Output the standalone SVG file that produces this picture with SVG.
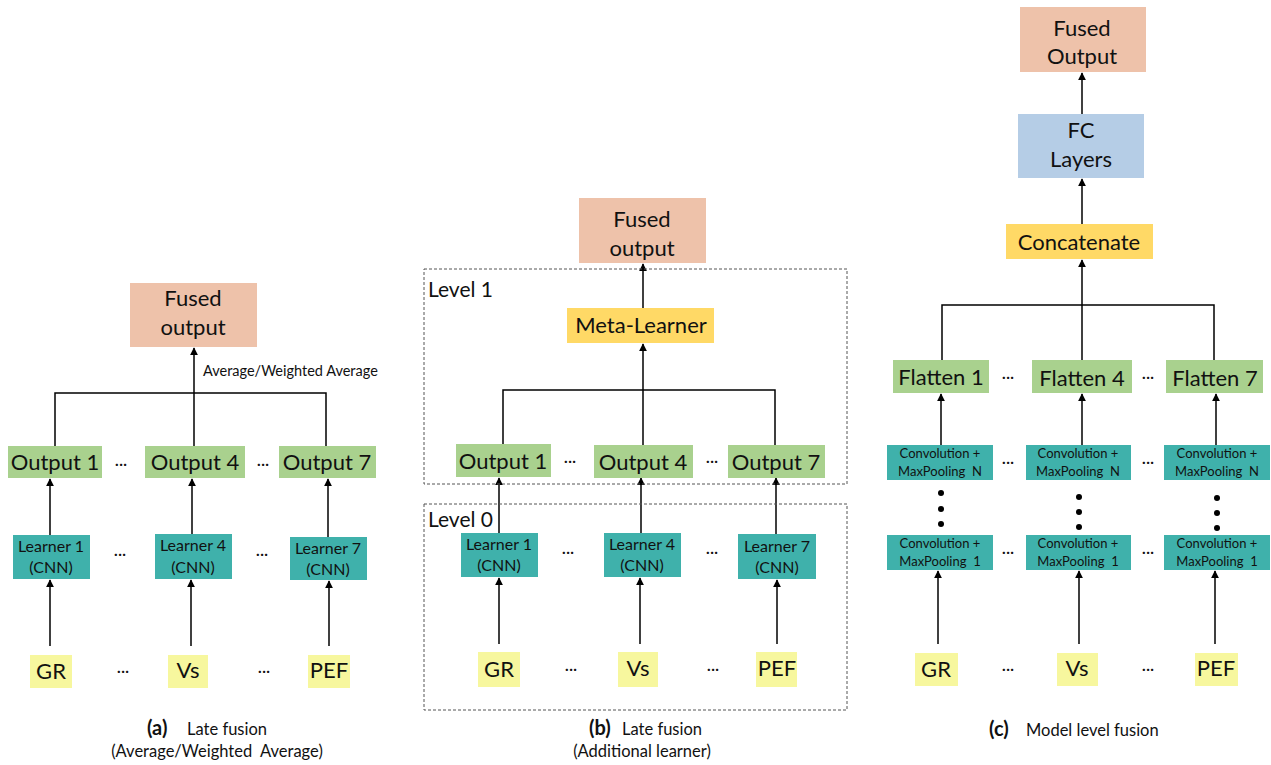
<svg xmlns="http://www.w3.org/2000/svg" width="1271" height="765" viewBox="0 0 1271 765">
<defs>
<marker id="ah" viewBox="0 0 10 10" refX="9" refY="5" markerWidth="8" markerHeight="8" markerUnits="userSpaceOnUse" orient="auto">
<path d="M0,0 L10,5 L0,10 z" fill="#000"/>
</marker>
<style>
text{font-family:Lato,"Open Sans","Liberation Sans",sans-serif;fill:#111;}
.big{font-size:22px;text-anchor:middle;}
.med{font-size:16px;text-anchor:middle;}
.sm{font-size:13px;text-anchor:middle;white-space:pre;}
.dots{font-size:16px;text-anchor:middle;}
.cap{font-size:16.5px;white-space:pre;}
.capb{font-size:20px;font-weight:bold;}
.lvt{font-size:21px;}
.salmon{fill:#EEC2AA;}
.green{fill:#A9D18E;}
.teal{fill:#3FB1AB;}
.yellow{fill:#F7F79E;}
.gold{fill:#FFD966;}
.blue{fill:#B5CDE6;}
.ln{stroke:#000;stroke-width:1.5;fill:none;}
.ar{stroke:#000;stroke-width:1.5;fill:none;marker-end:url(#ah);}
.lvl{fill:none;stroke:#555;stroke-width:1;stroke-dasharray:3,2;}
.vd{fill:#000;}
</style>
</defs>
<rect width="1271" height="765" fill="#fff"/>

<g id="connectors">
<!-- panel a -->
<path class="ln" d="M55,446 V393 H326 V446"/>
<line class="ar" x1="194" y1="446" x2="194" y2="348"/>
<line class="ar" x1="50" y1="535" x2="50" y2="479"/>
<line class="ar" x1="192" y1="534" x2="192" y2="479"/>
<line class="ar" x1="328" y1="537" x2="328" y2="479"/>
<line class="ar" x1="50" y1="646" x2="50" y2="580"/>
<line class="ar" x1="191" y1="646" x2="191" y2="580"/>
<line class="ar" x1="329" y1="646" x2="329" y2="581"/>
<!-- panel b -->
<path class="ln" d="M503,444 V390 H775 V445"/>
<line class="ar" x1="643" y1="445" x2="643" y2="344"/>
<line class="ar" x1="643" y1="308" x2="643" y2="264"/>
<line class="ar" x1="499" y1="533" x2="499" y2="478"/>
<line class="ar" x1="641" y1="533" x2="641" y2="478"/>
<line class="ar" x1="776" y1="534" x2="776" y2="478"/>
<line class="ar" x1="499" y1="644" x2="499" y2="578"/>
<line class="ar" x1="640" y1="644" x2="640" y2="578"/>
<line class="ar" x1="777" y1="644" x2="777" y2="580"/>
<!-- panel c -->
<path class="ln" d="M942,360 V305 H1214 V360"/>
<line class="ar" x1="1082" y1="360" x2="1082" y2="260"/>
<line class="ar" x1="1082" y1="224" x2="1082" y2="179"/>
<line class="ar" x1="1082" y1="114" x2="1082" y2="73"/>
<line class="ar" x1="941" y1="445" x2="941" y2="394"/>
<line class="ar" x1="1082" y1="445" x2="1082" y2="394"/>
<line class="ar" x1="1216" y1="445" x2="1216" y2="394"/>
<line class="ar" x1="938" y1="644" x2="938" y2="571"/>
<line class="ar" x1="1079" y1="644" x2="1079" y2="571"/>
<line class="ar" x1="1215" y1="644" x2="1215" y2="571"/>
</g>

<!-- ===== Panel (a) ===== -->
<g id="a-fused">
<rect class="salmon" x="130" y="283" width="127" height="64"/>
<text class="big" x="193" y="306">Fused</text>
<text class="big" x="193" y="335">output</text>
</g>
<text x="203" y="376" font-size="14.5">Average/Weighted Average</text>
<g id="a-out1"><rect class="green" x="8" y="446" width="94" height="32"/><text class="big" x="55" y="470">Output 1</text></g>
<g id="a-out4"><rect class="green" x="145" y="446" width="100" height="32"/><text class="big" x="195" y="470">Output 4</text></g>
<g id="a-out7"><rect class="green" x="279" y="446" width="97" height="32"/><text class="big" x="327" y="470">Output 7</text></g>
<text class="dots" x="121" y="469">···</text>
<text class="dots" x="263" y="469">···</text>
<g id="a-l1"><rect class="teal" x="13" y="535" width="77" height="44"/><text class="med" x="51" y="552">Learner 1</text><text class="med" x="51" y="573">(CNN)</text></g>
<g id="a-l4"><rect class="teal" x="155" y="534" width="77" height="45"/><text class="med" x="193" y="551">Learner 4</text><text class="med" x="193" y="573">(CNN)</text></g>
<g id="a-l7"><rect class="teal" x="290" y="537" width="77" height="43"/><text class="med" x="328" y="554">Learner 7</text><text class="med" x="328" y="575">(CNN)</text></g>
<text class="dots" x="120" y="559">···</text>
<text class="dots" x="262" y="559">···</text>
<g id="a-gr"><rect class="yellow" x="30" y="655" width="42" height="33"/><text class="big" x="51" y="679">GR</text></g>
<g id="a-vs"><rect class="yellow" x="168" y="655" width="40" height="33"/><text class="big" x="188" y="678">Vs</text></g>
<g id="a-pef"><rect class="yellow" x="308" y="655" width="42" height="33"/><text class="big" x="329" y="678">PEF</text></g>
<text class="dots" x="123" y="676">···</text>
<text class="dots" x="264" y="676">···</text>
<text class="capb" x="147" y="735">(a)</text>
<text class="cap" x="187" y="735">Late fusion</text>
<text class="cap" x="217" y="757" text-anchor="middle">(Average/Weighted  Average)</text>

<!-- ===== Panel (b) ===== -->
<rect class="lvl" x="424" y="269" width="423" height="215"/>
<rect class="lvl" x="424" y="504" width="423" height="206"/>
<text class="lvt" x="428" y="297">Level 1</text>
<text class="lvt" x="428" y="527">Level 0</text>
<g id="b-fused">
<rect class="salmon" x="579" y="198" width="127" height="65"/>
<text class="big" x="642" y="227">Fused</text>
<text class="big" x="642" y="256">output</text>
</g>
<g id="b-meta"><rect class="gold" x="567" y="308" width="147" height="35"/><text class="big" x="641" y="333">Meta-Learner</text></g>
<g id="b-out1"><rect class="green" x="456" y="444" width="95" height="33"/><text class="big" x="503" y="469">Output 1</text></g>
<g id="b-out4"><rect class="green" x="594" y="445" width="99" height="33"/><text class="big" x="643" y="470">Output 4</text></g>
<g id="b-out7"><rect class="green" x="728" y="445" width="97" height="33"/><text class="big" x="776" y="470">Output 7</text></g>
<text class="dots" x="570" y="466">···</text>
<text class="dots" x="712" y="466">···</text>
<g id="b-l1"><rect class="teal" x="461" y="533" width="77" height="44"/><text class="med" x="499" y="550">Learner 1</text><text class="med" x="499" y="571">(CNN)</text></g>
<g id="b-l4"><rect class="teal" x="604" y="533" width="77" height="44"/><text class="med" x="642" y="550">Learner 4</text><text class="med" x="642" y="571">(CNN)</text></g>
<g id="b-l7"><rect class="teal" x="738" y="534" width="78" height="45"/><text class="med" x="777" y="552">Learner 7</text><text class="med" x="777" y="573">(CNN)</text></g>
<text class="dots" x="568" y="557">···</text>
<text class="dots" x="712" y="557">···</text>
<g id="b-gr"><rect class="yellow" x="478" y="652" width="42" height="35"/><text class="big" x="499" y="677">GR</text></g>
<g id="b-vs"><rect class="yellow" x="618" y="652" width="40" height="35"/><text class="big" x="638" y="676">Vs</text></g>
<g id="b-pef"><rect class="yellow" x="756" y="652" width="41" height="35"/><text class="big" x="777" y="676">PEF</text></g>
<text class="dots" x="571" y="674">···</text>
<text class="dots" x="713" y="674">···</text>
<text class="capb" x="589" y="735">(b)</text>
<text class="cap" x="622" y="735">Late fusion</text>
<text class="cap" x="642" y="757" text-anchor="middle">(Additional learner)</text>

<!-- ===== Panel (c) ===== -->
<g id="c-fused">
<rect class="salmon" x="1020" y="7" width="126" height="65"/>
<text class="big" x="1082" y="36">Fused</text>
<text class="big" x="1082" y="64">Output</text>
</g>
<g id="c-fc">
<rect class="blue" x="1018" y="114" width="126" height="64"/>
<text class="big" x="1081" y="138">FC</text>
<text class="big" x="1081" y="167">Layers</text>
</g>
<g id="c-concat"><rect class="gold" x="1006" y="224" width="147" height="35"/><text class="big" x="1079" y="250">Concatenate</text></g>
<g id="c-f1"><rect class="green" x="893" y="360" width="96" height="33"/><text class="big" x="941" y="385">Flatten 1</text></g>
<g id="c-f4"><rect class="green" x="1032" y="360" width="100" height="33"/><text class="big" x="1082" y="386">Flatten 4</text></g>
<g id="c-f7"><rect class="green" x="1166" y="360" width="97" height="33"/><text class="big" x="1215" y="386">Flatten 7</text></g>
<text class="dots" x="1008" y="382">···</text>
<text class="dots" x="1148" y="382">···</text>
<g id="c-cn1"><rect class="teal" x="887" y="445" width="106" height="35"/><text class="sm" x="940" y="458">Convolution +</text><text class="sm" x="940" y="476">MaxPooling  N</text></g>
<g id="c-cn4"><rect class="teal" x="1026" y="445" width="105" height="35"/><text class="sm" x="1078" y="458">Convolution +</text><text class="sm" x="1078" y="476">MaxPooling  N</text></g>
<g id="c-cn7"><rect class="teal" x="1164" y="445" width="106" height="35"/><text class="sm" x="1217" y="458">Convolution +</text><text class="sm" x="1217" y="476">MaxPooling  N</text></g>
<text class="dots" x="1008" y="467">···</text>
<text class="dots" x="1148" y="467">···</text>
<g id="c-vdots">
<circle class="vd" cx="941" cy="493" r="3"/><circle class="vd" cx="941" cy="509" r="3"/><circle class="vd" cx="941" cy="524" r="3"/>
<circle class="vd" cx="1079" cy="497" r="3"/><circle class="vd" cx="1079" cy="512" r="3"/><circle class="vd" cx="1079" cy="527" r="3"/>
<circle class="vd" cx="1217" cy="498" r="3"/><circle class="vd" cx="1217" cy="513" r="3"/><circle class="vd" cx="1217" cy="528" r="3"/>
</g>
<g id="c-c11"><rect class="teal" x="887" y="535" width="106" height="35"/><text class="sm" x="940" y="548">Convolution +</text><text class="sm" x="940" y="566">MaxPooling  1</text></g>
<g id="c-c14"><rect class="teal" x="1026" y="535" width="105" height="35"/><text class="sm" x="1078" y="548">Convolution +</text><text class="sm" x="1078" y="566">MaxPooling  1</text></g>
<g id="c-c17"><rect class="teal" x="1164" y="535" width="106" height="35"/><text class="sm" x="1217" y="548">Convolution +</text><text class="sm" x="1217" y="566">MaxPooling  1</text></g>
<text class="dots" x="1008" y="557">···</text>
<text class="dots" x="1148" y="557">···</text>
<g id="c-gr"><rect class="yellow" x="915" y="653" width="43" height="33"/><text class="big" x="936" y="677">GR</text></g>
<g id="c-vs"><rect class="yellow" x="1057" y="653" width="41" height="33"/><text class="big" x="1077" y="676">Vs</text></g>
<g id="c-pef"><rect class="yellow" x="1195" y="653" width="43" height="33"/><text class="big" x="1216" y="676">PEF</text></g>
<text class="dots" x="1008" y="674">···</text>
<text class="dots" x="1148" y="674">···</text>
<text class="capb" x="989" y="736">(c)</text>
<text class="cap" x="1026" y="736">Model level fusion</text>
</svg>
